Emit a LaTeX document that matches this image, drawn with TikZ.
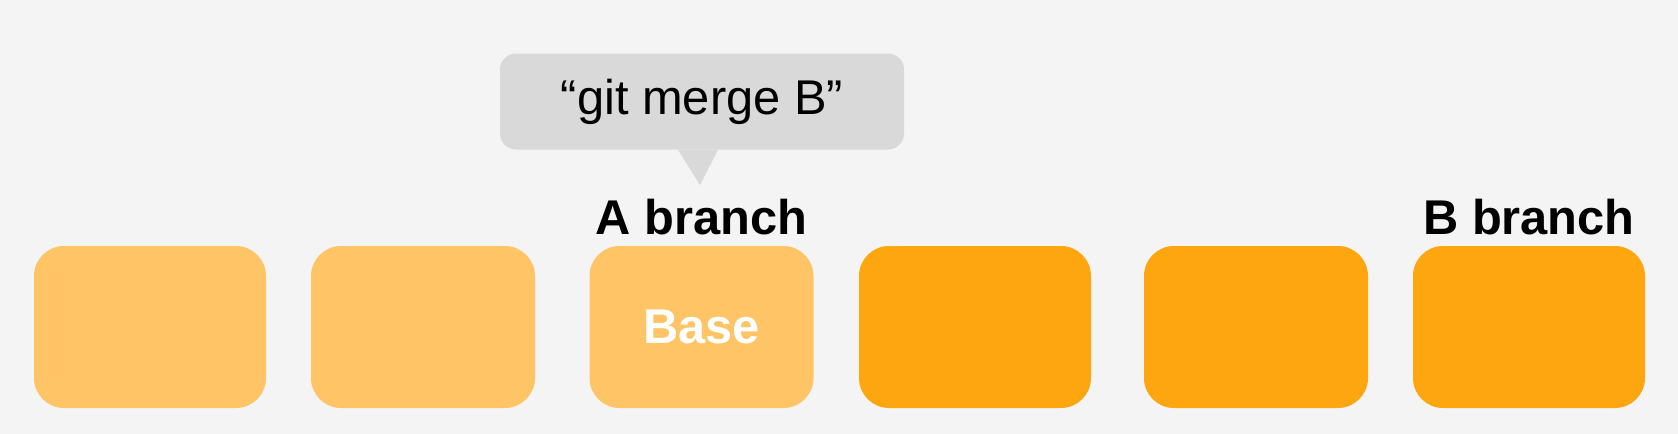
\documentclass[tikz,border=0pt]{standalone}
\usepackage{fontspec}
\setmainfont{Liberation Sans}
\usepackage{tikz}
\usetikzlibrary{positioning,calc}
\definecolor{bgG}{HTML}{F4F4F4}
\definecolor{tipG}{HTML}{D9D9D9}
\definecolor{cmL}{HTML}{FEC466}
\definecolor{cmD}{HTML}{FEA60F}

\begin{document}
\begin{tikzpicture}[x=0.5pt,y=-0.5pt,font=\fontsize{24.4pt}{28pt}\selectfont,
   commit/.style={rectangle,rounded corners=15pt,fill=cmL,minimum width=116pt,minimum height=81pt,inner sep=0pt},
   commitb/.style={commit,fill=cmD},
   lbl/.style={font=\fontsize{24.4pt}{28pt}\selectfont\bfseries,inner sep=0pt,anchor=base},
   bub/.style={rectangle,rounded corners=8pt,fill=tipG,minimum width=202pt,minimum height=48pt,inner sep=0pt}]
%% ---- background ----
\fill[bgG] (0,0) rectangle (1678,434);
\useasboundingbox (0,0) rectangle (1678,434);
%% ---- commits ----
\node[commit] (c1) at (150,327) {};
\node[commit,minimum width=112pt] (c2) at (423,327) {};
\node[commit,minimum width=112pt,text=white,font=\fontsize{24.4pt}{28pt}\selectfont\bfseries] (c3) at (701.5,327) {Base};
\node[commitb] (c4) at (975,327) {};
\node[commitb,minimum width=112pt] (c5) at (1256,327) {};
\node[commitb] (c6) at (1529,327) {};
%% ---- branch labels ----
\node[lbl] (la) at ([yshift=5.5pt]c3.north) {A branch};
\node[lbl] (lb) at ([yshift=5.5pt]c6.north) {B branch};
%% ---- speech bubble ----
\node[bub] (cmd) at (702,101.5) {“git merge B”};
\coordinate (tip) at (700,185);
\fill[tipG] ([xshift=-12pt]cmd.south) -- (tip) -- ([xshift=8pt]cmd.south) -- cycle;
\end{tikzpicture}
\end{document}
